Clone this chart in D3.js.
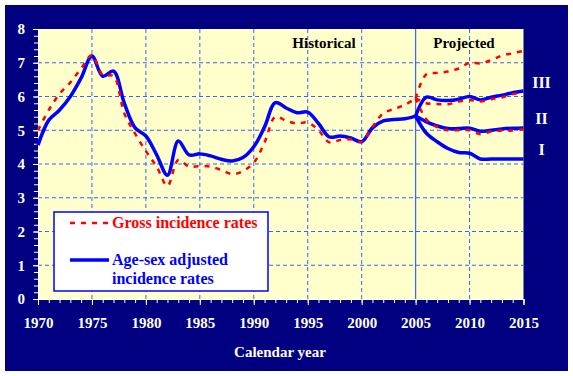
<!DOCTYPE html>
<html>
<head>
<meta charset="utf-8">
<script src="https://cdn.jsdelivr.net/npm/d3@7"></script>
<style>
  body { margin: 0; background: #fff; }
  svg text { font-family: "Liberation Serif", "Times New Roman", Times, serif !important; font-weight: bold; }
</style>
</head>
<body>
<div id="chart"></div>
<script>
// data
const histYears = d3.range(1970, 2006);
const projYears = d3.range(2005, 2016);
const xTicks = [1970, 1975, 1980, 1985, 1990, 1995, 2000, 2005, 2010, 2015];
const yTicks = [0, 1, 2, 3, 4, 5, 6, 7, 8];

const adjustedHist = [4.56, 5.3, 5.6, 6.0, 6.55, 7.2, 6.6, 6.75, 5.8, 5.07, 4.83, 4.27, 3.67, 4.68, 4.27, 4.3,
  4.24, 4.14, 4.09, 4.19, 4.51, 5.1, 5.82, 5.66, 5.52, 5.54, 5.2, 4.8, 4.83, 4.77, 4.66, 5.07, 5.28, 5.32, 5.34, 5.42];
const grossHist = [5.0, 5.6, 6.08, 6.42, 6.83, 7.22, 6.64, 6.6, 5.5, 4.9, 4.38, 3.92, 3.35, 4.12, 3.92, 3.94,
  3.92, 3.82, 3.7, 3.79, 4.04, 4.64, 5.4, 5.28, 5.2, 5.23, 5.0, 4.64, 4.71, 4.73, 4.66, 5.1, 5.5, 5.63, 5.75, 5.95];

const adjustedI = [5.42, 4.91, 4.66, 4.46, 4.34, 4.32, 4.15, 4.15, 4.15, 4.15, 4.15];
const adjustedII = [5.42, 5.25, 5.13, 5.05, 5.05, 5.06, 4.97, 5.0, 5.04, 5.06, 5.07];
const adjustedIII = [5.42, 5.98, 5.9, 5.88, 5.92, 6.0, 5.9, 5.98, 6.04, 6.11, 6.16];
const grossI = [5.95, 5.32, 5.09, 5.0, 5.0, 5.0, 4.88, 4.96, 4.99, 4.99, 5.03];
const grossII = [5.95, 5.8, 5.78, 5.77, 5.85, 5.9, 5.85, 5.92, 5.97, 6.07, 6.11];
const grossIII = [5.95, 6.66, 6.7, 6.74, 6.83, 7.0, 6.98, 7.08, 7.21, 7.28, 7.35];

const scenarioLabels = ["I", "II", "III"];

const W = 573, H = 376;
const margin = { top: 29, left: 38 };
const width = 523.5 - margin.left;
const height = 299 - margin.top;
const serif = '"Liberation Serif", "Times New Roman", Times, serif';

const svg = d3.select("#chart").append("svg")
  .attr("width", W)
  .attr("height", H);

// navy frame
svg.append("rect")
  .attr("x", 5).attr("y", 5)
  .attr("width", 563).attr("height", 366)
  .attr("fill", "#000080");

const g = svg.append("g")
  .attr("transform", `translate(${margin.left},${margin.top})`);

const x = d3.scaleLinear().domain([1970, 2015]).range([0, width]);
const y = d3.scaleLinear().domain([0, 8]).range([height, 0]);

g.append("rect")
  .attr("width", width)
  .attr("height", height)
  .attr("fill", "#ffffcc");

// grid
const gridColor = "#3366ff";
g.append("g")
  .selectAll("line")
  .data(yTicks.filter((d) => d > 0 && d < 8))
  .join("line")
  .attr("x1", 0).attr("x2", width)
  .attr("y1", (d) => y(d)).attr("y2", (d) => y(d))
  .attr("stroke", gridColor)
  .attr("stroke-dasharray", "4,3");

g.append("g")
  .selectAll("line")
  .data(xTicks.filter((d) => d > 1970 && d < 2015 && d !== 2005))
  .join("line")
  .attr("x1", (d) => x(d)).attr("x2", (d) => x(d))
  .attr("y1", 0).attr("y2", height)
  .attr("stroke", gridColor)
  .attr("stroke-dasharray", "4,3");

// historical / projected divider
g.append("line")
  .attr("x1", x(2005)).attr("x2", x(2005))
  .attr("y1", 0).attr("y2", height)
  .attr("stroke", gridColor)
  .attr("stroke-width", 1.2);

// axes
const axisStyle = (sel) => {
  sel.attr("font-family", serif);
  sel.selectAll("line, path").attr("stroke", "#fff");
  sel.selectAll("text")
    .attr("fill", "#fff")
    .style("font-size", "15px")
    .style("font-weight", "bold");
};

g.append("g")
  .call(d3.axisLeft(y).ticks(32).tickSize(4).tickFormat(""))
  .call((s) => s.select(".domain").remove())
  .call(axisStyle);
g.append("g")
  .call(d3.axisLeft(y).tickValues(yTicks).tickSize(5).tickPadding(8).tickFormat(d3.format("d")))
  .call(axisStyle);

g.append("g")
  .attr("transform", `translate(0,${height})`)
  .call(d3.axisBottom(x).ticks(45).tickSize(4).tickFormat(""))
  .call((s) => s.select(".domain").remove())
  .call(axisStyle);
g.append("g")
  .attr("transform", `translate(0,${height})`)
  .call(d3.axisBottom(x).tickValues(xTicks).tickSize(6).tickPadding(12).tickFormat(d3.format("d")))
  .call(axisStyle);

// lines
const line = d3.line()
  .curve(d3.curveCatmullRom.alpha(0.5))
  .x((d) => x(d[0]))
  .y((d) => y(d[1]));

const blue = "#0000ff", red = "#ff0000";
const series = [
  { years: histYears, values: adjustedHist, color: blue },
  { years: projYears, values: adjustedI, color: blue },
  { years: projYears, values: adjustedII, color: blue },
  { years: projYears, values: adjustedIII, color: blue },
  { years: histYears, values: grossHist, color: red, dashed: true },
  { years: projYears, values: grossI, color: red, dashed: true },
  { years: projYears, values: grossII, color: red, dashed: true },
  { years: projYears, values: grossIII, color: red, dashed: true },
];

g.selectAll(".series")
  .data(series)
  .join("path")
  .attr("class", "series")
  .attr("fill", "none")
  .attr("stroke", (d) => d.color)
  .attr("stroke-width", (d) => (d.dashed ? 2.5 : 3.5))
  .attr("stroke-dasharray", (d) => (d.dashed ? "5,6" : null))
  .attr("d", (d) => line(d.years.map((yr, i) => [yr, d.values[i]])));

// section labels
g.append("text")
  .attr("x", 286).attr("y", 19)
  .attr("text-anchor", "middle")
  .style("font-size", "15px")
  .text("Historical");
g.append("text")
  .attr("x", 426).attr("y", 19)
  .attr("text-anchor", "middle")
  .style("font-size", "15px")
  .text("Projected");

// scenario labels at the right edge, a little above each blue line end
const scenarioEnds = [adjustedI, adjustedII, adjustedIII].map((a) => a[a.length - 1]);
g.selectAll(".scen")
  .data(scenarioLabels)
  .join("text")
  .attr("class", "scen")
  .attr("x", width + 18)
  .attr("y", (d, i) => y(scenarioEnds[i]) - 3.5)
  .attr("text-anchor", "middle")
  .attr("fill", "#fff")
  .style("font-size", "16px")
  .text((d) => d);

// x axis title
g.append("text")
  .attr("x", 242).attr("y", 328)
  .attr("text-anchor", "middle")
  .attr("fill", "#fff")
  .style("font-size", "15px")
  .text("Calendar year");

// legend
const legend = svg.append("g").attr("transform", "translate(54,212)");
legend.append("rect")
  .attr("width", 214).attr("height", 79)
  .attr("fill", "#fff")
  .attr("stroke", blue)
  .attr("stroke-width", 1.5);
legend.append("line")
  .attr("x1", 16).attr("x2", 55)
  .attr("y1", 11).attr("y2", 11)
  .attr("stroke", red)
  .attr("stroke-width", 2.5)
  .attr("stroke-dasharray", "5,6");
legend.append("text")
  .attr("x", 58).attr("y", 16)
  .attr("fill", red)
  .style("font-size", "16px")
  .text("Gross incidence rates");
legend.append("line")
  .attr("x1", 16).attr("x2", 55)
  .attr("y1", 48).attr("y2", 48)
  .attr("stroke", blue)
  .attr("stroke-width", 3.5);
legend.append("text")
  .attr("x", 58).attr("y", 53)
  .attr("fill", blue)
  .style("font-size", "16px")
  .text("Age-sex adjusted");
legend.append("text")
  .attr("x", 58).attr("y", 72)
  .attr("fill", blue)
  .style("font-size", "16px")
  .text("incidence rates");
</script>
</body>
</html>
